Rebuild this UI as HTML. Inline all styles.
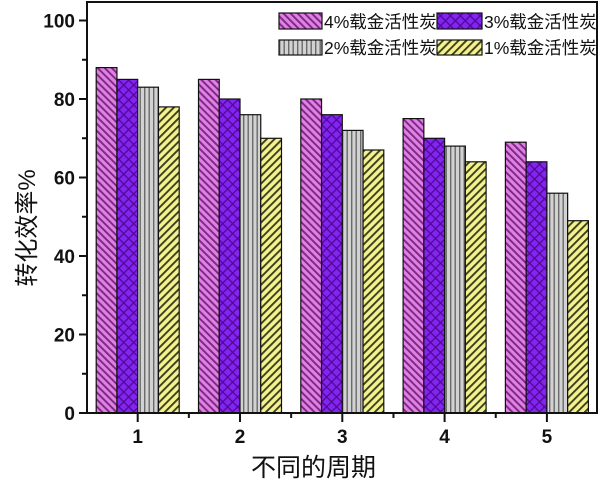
<!DOCTYPE html>
<html>
<head>
<meta charset="utf-8">
<style>
  html,body{margin:0;padding:0;background:#fff;}
  svg{display:block;}
  .tk{font-family:"Liberation Sans",Arial,sans-serif;font-weight:bold;font-size:19px;fill:#111;}
  .cjk{font-family:"Liberation Sans","Noto Sans CJK SC",sans-serif;fill:#111;}
</style>
</head>
<body>
<svg width="600" height="485" viewBox="0 0 600 485" xmlns="http://www.w3.org/2000/svg">
  <defs>
    <pattern id="pPink" patternUnits="userSpaceOnUse" width="5" height="5" patternTransform="rotate(-45)">
      <rect width="5" height="5" fill="#e07fe6"/>
      <rect x="0" y="0" width="1.9" height="5" fill="#7a2a7e"/>
    </pattern>
    <pattern id="pYel" patternUnits="userSpaceOnUse" width="5.5" height="5.5" patternTransform="rotate(45)">
      <rect width="5.5" height="5.5" fill="#f2f28e"/>
      <rect x="0" y="0" width="1.9" height="5.5" fill="#3e3e1e"/>
    </pattern>
    <pattern id="pGray" patternUnits="userSpaceOnUse" width="4.5" height="10">
      <rect width="4.5" height="10" fill="#d2d2d2"/>
      <rect x="0" y="0" width="1.4" height="10" fill="#6a6a6a"/>
    </pattern>
    <pattern id="pPur" patternUnits="userSpaceOnUse" width="7" height="7" patternTransform="rotate(45)">
      <rect width="7" height="7" fill="#8424f0"/>
      <rect x="0" y="0" width="1.3" height="7" fill="#4e0a96"/>
      <rect x="0" y="0" width="7" height="1.3" fill="#4e0a96"/>
    </pattern>
  </defs>

  <!-- bars -->
  <g stroke="#111" stroke-width="1.2">
    <!-- group 1 center 137.7 -->
    <rect x="96.2" y="67.6" width="20.75" height="345.4" fill="url(#pPink)"/>
    <rect x="116.95" y="79.4" width="20.75" height="333.6" fill="url(#pPur)"/>
    <rect x="137.7" y="87.2" width="20.75" height="325.8" fill="url(#pGray)"/>
    <rect x="158.45" y="106.9" width="20.75" height="306.1" fill="url(#pYel)"/>
    <!-- group 2 center 240 -->
    <rect x="198.5" y="79.4" width="20.75" height="333.6" fill="url(#pPink)"/>
    <rect x="219.25" y="99.0" width="20.75" height="314.0" fill="url(#pPur)"/>
    <rect x="240.0" y="114.7" width="20.75" height="298.3" fill="url(#pGray)"/>
    <rect x="260.75" y="138.3" width="20.75" height="274.7" fill="url(#pYel)"/>
    <!-- group 3 center 342.3 -->
    <rect x="300.8" y="99.0" width="20.75" height="314.0" fill="url(#pPink)"/>
    <rect x="321.55" y="114.7" width="20.75" height="298.3" fill="url(#pPur)"/>
    <rect x="342.3" y="130.4" width="20.75" height="282.6" fill="url(#pGray)"/>
    <rect x="363.05" y="150.0" width="20.75" height="263.0" fill="url(#pYel)"/>
    <!-- group 4 center 444.6 -->
    <rect x="403.1" y="118.6" width="20.75" height="294.4" fill="url(#pPink)"/>
    <rect x="423.85" y="138.3" width="20.75" height="274.7" fill="url(#pPur)"/>
    <rect x="444.6" y="146.1" width="20.75" height="266.9" fill="url(#pGray)"/>
    <rect x="465.35" y="161.8" width="20.75" height="251.2" fill="url(#pYel)"/>
    <!-- group 5 center 546.9 -->
    <rect x="505.4" y="142.2" width="20.75" height="270.8" fill="url(#pPink)"/>
    <rect x="526.15" y="161.8" width="20.75" height="251.2" fill="url(#pPur)"/>
    <rect x="546.9" y="193.2" width="20.75" height="219.8" fill="url(#pGray)"/>
    <rect x="567.65" y="220.7" width="20.75" height="192.3" fill="url(#pYel)"/>
  </g>

  <!-- axes frame -->
  <rect x="87" y="2" width="510" height="411" fill="none" stroke="#111" stroke-width="2"/>

  <!-- y ticks -->
  <g stroke="#111" stroke-width="2">
    <line x1="79" y1="413" x2="87" y2="413"/>
    <line x1="79" y1="334.5" x2="87" y2="334.5"/>
    <line x1="79" y1="256" x2="87" y2="256"/>
    <line x1="79" y1="177.5" x2="87" y2="177.5"/>
    <line x1="79" y1="99" x2="87" y2="99"/>
    <line x1="79" y1="20.5" x2="87" y2="20.5"/>
    <line x1="82" y1="373.75" x2="87" y2="373.75"/>
    <line x1="82" y1="295.25" x2="87" y2="295.25"/>
    <line x1="82" y1="216.75" x2="87" y2="216.75"/>
    <line x1="82" y1="138.25" x2="87" y2="138.25"/>
    <line x1="82" y1="59.75" x2="87" y2="59.75"/>
  </g>
  <g class="tk" text-anchor="end">
    <text x="75" y="420">0</text>
    <text x="75" y="341.5">20</text>
    <text x="75" y="263">40</text>
    <text x="75" y="184.5">60</text>
    <text x="75" y="106">80</text>
    <text x="75" y="27.5">100</text>
  </g>

  <!-- x ticks -->
  <g stroke="#111" stroke-width="2">
    <line x1="137.7" y1="413" x2="137.7" y2="422"/>
    <line x1="240" y1="413" x2="240" y2="422"/>
    <line x1="342.3" y1="413" x2="342.3" y2="422"/>
    <line x1="444.6" y1="413" x2="444.6" y2="422"/>
    <line x1="546.9" y1="413" x2="546.9" y2="422"/>
    <line x1="188.85" y1="413" x2="188.85" y2="418"/>
    <line x1="291.15" y1="413" x2="291.15" y2="418"/>
    <line x1="393.45" y1="413" x2="393.45" y2="418"/>
    <line x1="495.75" y1="413" x2="495.75" y2="418"/>
  </g>
  <g class="tk" text-anchor="middle">
    <text x="137.7" y="443">1</text>
    <text x="240" y="443">2</text>
    <text x="342.3" y="443">3</text>
    <text x="444.6" y="443">4</text>
    <text x="546.9" y="443">5</text>
  </g>

  <!-- axis titles -->
  <text class="cjk" x="313.5" y="476" font-size="25" text-anchor="middle">不同的周期</text>
  <text class="cjk" transform="translate(35,228) rotate(-90)" font-size="24" text-anchor="middle">转化效率%</text>

  <!-- legend -->
  <g stroke="#111" stroke-width="1.2">
    <rect x="279" y="13" width="43" height="16" fill="url(#pPink)"/>
    <rect x="437" y="13" width="45" height="16" fill="url(#pPur)"/>
    <rect x="279" y="40" width="43" height="15" fill="url(#pGray)"/>
    <rect x="437" y="40" width="45" height="15" fill="url(#pYel)"/>
  </g>
  <g class="cjk" font-size="17.5">
    <text x="324" y="28">4%载金活性炭</text>
    <text x="484" y="28">3%载金活性炭</text>
    <text x="324" y="54">2%载金活性炭</text>
    <text x="484" y="54">1%载金活性炭</text>
  </g>
</svg>
</body>
</html>
